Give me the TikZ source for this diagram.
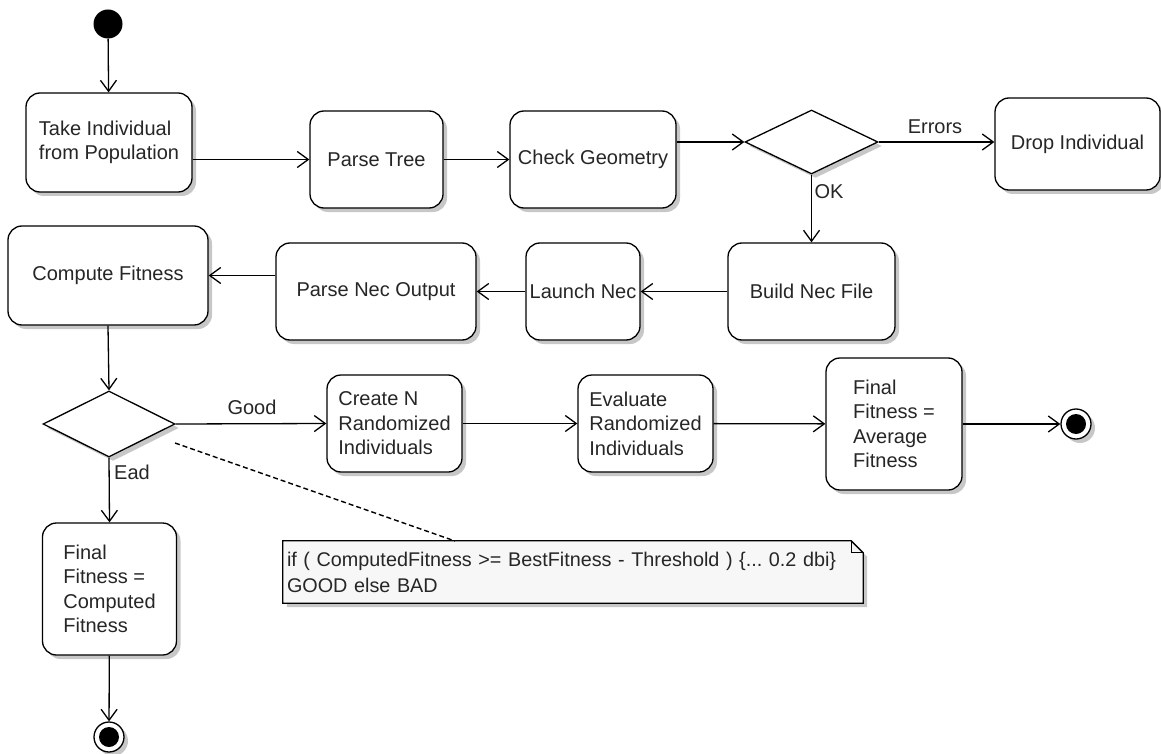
\documentclass[tikz,border=0pt]{standalone}
\usepackage{fontspec}
\setmainfont{Liberation Sans}
\usetikzlibrary{arrows.meta,shapes.geometric,shadows,backgrounds}
\frenchspacing
\newcommand{\fsmain}{\fontsize{20}{24.5}\selectfont}
\newcommand{\fsnote}{\fontsize{19.8}{26}\selectfont}
\tikzset{
  shad/.style={drop shadow={shadow xshift=4pt,shadow yshift=-4pt,fill=black,opacity=0.22}},
  rbox/.style={draw, rounded corners=14pt, line width=1.3pt, fill=white, align=left,
    font=\fsmain, text=black!85, inner sep=0pt, shad},
  dia/.style={draw, shape=diamond, line width=1.3pt, fill=white, inner sep=0pt, shad},
  lbl/.style={font=\fsmain, text=black!85, inner sep=0pt},
  flow/.style={line width=1.3pt, -{Straight Barb[length=11pt,width=16pt,line width=1.3pt]}},
  endc/.style={circle, draw, line width=1.3pt, fill=white, minimum size=30pt, inner sep=0pt, shad},
  endd/.style={circle, fill=black, minimum size=20pt, inner sep=0pt},
  notebox/.style={minimum width=580pt, minimum height=62pt, text width=572pt, inner sep=4pt,
    align=left, font=\fsnote, text=black!85},
}
\begin{document}
\begin{tikzpicture}[x=1pt,y=-1pt]
\useasboundingbox (0,0) rectangle (1161,754);
% nodes
\node[circle, fill=black, minimum size=29pt, inner sep=0pt] (start) at (108,24) {};
\node[rbox, minimum width=166pt, minimum height=99pt] (take) at (109,142.5) {Take Individual\\from Population};
\node[rbox, minimum width=133pt, minimum height=97pt] (pt) at (376.5,159.5) {Parse Tree};
\node[rbox, minimum width=166pt, minimum height=97pt] (cg) at (593,159.5) {Check Geometry};
\node[dia, minimum width=133pt, minimum height=64pt] (d1) at (811.5,142) {};
\node[rbox, minimum width=165pt, minimum height=92pt] (drop) at (1077.5,144) {Drop Individual};
\node[rbox, minimum width=167pt, minimum height=97pt] (bnf) at (811.5,291.5) {Build Nec File};
\node[rbox, minimum width=114pt, minimum height=97pt] (ln) at (583,291.5) {Launch Nec};
\node[rbox, minimum width=200pt, minimum height=97pt] (pno) at (376,291.5) {Parse Nec Output};
\node[rbox, minimum width=200pt, minimum height=99pt] (cf) at (108,275.5) {Compute Fitness};
\node[dia, minimum width=132pt, minimum height=66pt] (d2) at (109,424) {};
\node[rbox, minimum width=135pt, minimum height=97pt] (cn) at (394.5,423.5) {Create N\\Randomized\\Individuals};
\node[rbox, minimum width=135pt, minimum height=97pt] (ev) at (645.5,423.5) {Evaluate\\Randomized\\Individuals};
\node[rbox, minimum width=136pt, minimum height=132pt] (fa) at (894,424) {Final\\Fitness =\\Average\\Fitness};
\node[rbox, minimum width=134pt, minimum height=132pt] (fc) at (109.5,589) {Final\\Fitness =\\Computed\\Fitness};
\node[endc] (end1) at (1076,424) {};
\node[endd] (end1d) at (1076,424) {};
\node[endc] (end2) at (109,737) {};
\node[endd] (end2d) at (109,737) {};
% note
\node[notebox] (note) at (573,572)
  {if ( ComputedFitness >= BestFitness - Threshold ) \{... 0.2 dbi\}\\GOOD else BAD};
\begin{scope}[on background layer]
\fill[black, opacity=0.22] ([xshift=4pt,yshift=-4pt]note.north west) -- ([xshift=-8pt,yshift=-4pt]note.north east)
  -- ([xshift=4pt,yshift=-16pt]note.north east) -- ([xshift=4pt,yshift=-4pt]note.south east)
  -- ([xshift=4pt,yshift=-4pt]note.south west) -- cycle;
\draw[line width=1.3pt, fill=black!3] (note.north west) -- ([xshift=-12pt]note.north east)
  -- ([yshift=-12pt]note.north east) -- (note.south east) -- (note.south west) -- cycle;
\draw[line width=1pt] ([xshift=-12pt]note.north east) -- ([xshift=-12pt,yshift=-12pt]note.north east)
  -- ([yshift=-12pt]note.north east);
\end{scope}
% connectors
\draw[flow] (start) -- (take);
\draw[flow] (pt.west -| take.east) -- (pt.west);
\draw[flow] (pt) -- (cg);
\draw[flow] (cg.east |- d1.west) -- (d1.west);
\draw[flow] (d1.east) -- (d1.east -| drop.west);
\draw[flow] (d1.south) -- (bnf.north);
\draw[flow] (bnf) -- (ln);
\draw[flow] (ln) -- (pno);
\draw[flow] (pno.west |- cf.east) -- (cf.east);
\draw[flow] (cf.south) -- (d2.north);
\draw[flow] (d2.east) -- (cn.west);
\draw[flow] (cn) -- (ev);
\draw[flow] (ev) -- (fa);
\draw[flow] (fa) -- (end1);
\draw[flow] (d2.south) -- (fc.north);
\draw[flow] (fc) -- (end2);
\coordinate (dstart) at (175,443);
\coordinate (dend) at (455,541);
\draw[dash pattern=on 5pt off 3pt, line width=1.4pt] (dstart) -- (dend);
% labels
\node[lbl] (lerr) at (935,127) {Errors};
\node[lbl] (lok) at (829,192) {OK};
\node[lbl] (lgood) at (252,407) {Good};
\node[lbl] (lbad) at (132,472) {Ead};
\end{tikzpicture}
\end{document}
